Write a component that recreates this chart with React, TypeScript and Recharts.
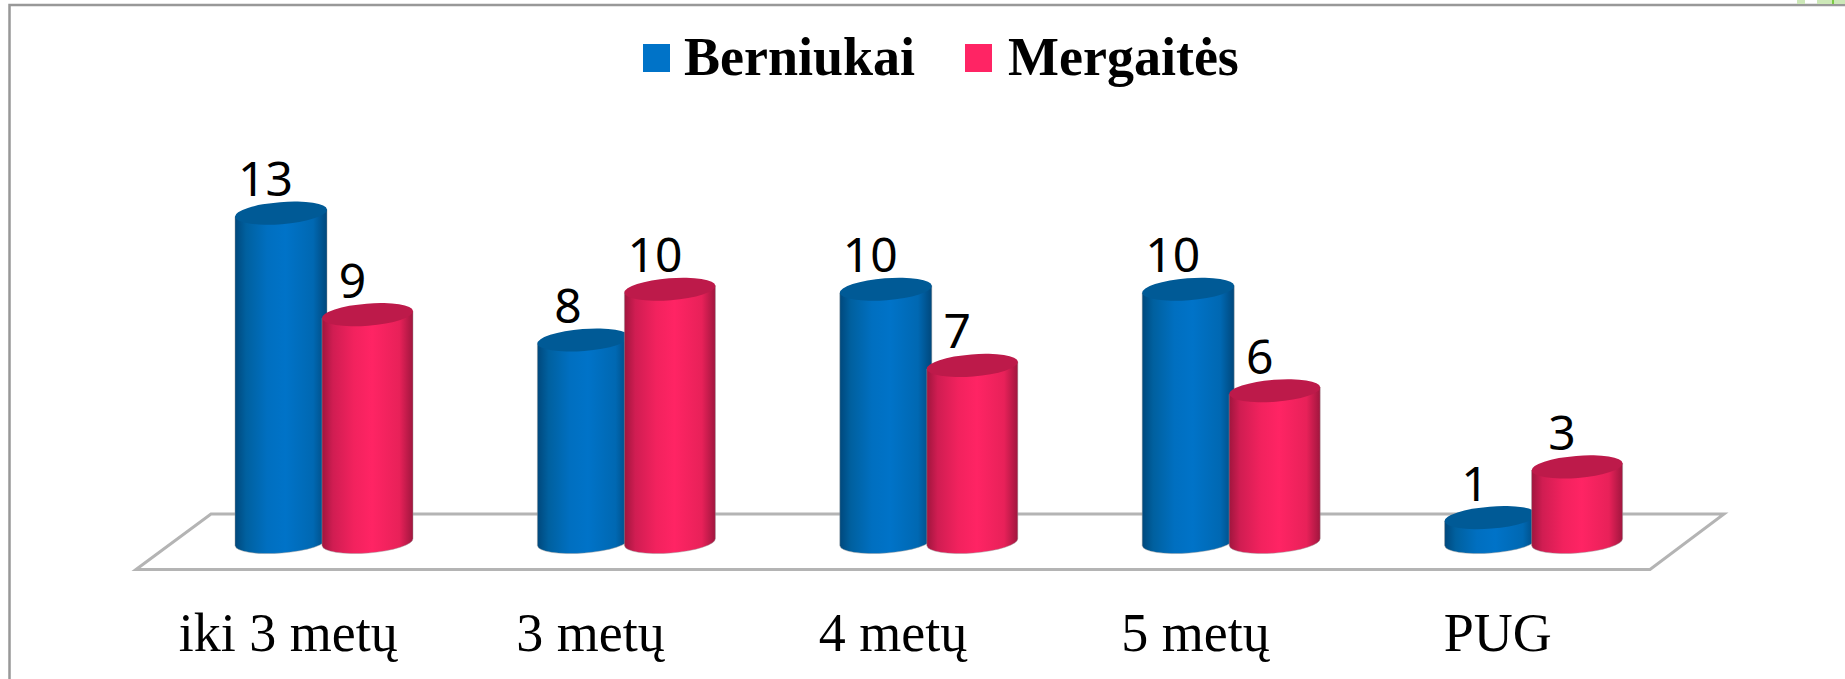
import React from "react";
import { BarChart, Bar, XAxis, YAxis, LabelList } from "recharts";

const categories = ["iki 3 metų", "3 metų", "4 metų", "5 metų", "PUG"];
const boys = [13, 8, 10, 10, 1];
const girls = [9, 10, 7, 6, 3];
const seriesNames = ["Berniukai", "Mergaitės"];
const data = categories.map((c, i) => ({ c, boys: boys[i], girls: girls[i] }));

const W = 1845, H = 679;
const BLUE = "#0073c8", RED = "#ff2464";
const RY = 11, TILT = 4.5;

const Cyl = (grad: string, top: string, shift: number, extra: number) => (p: any) => {
  const x = p.x + shift, w = p.width + extra, y = p.y, h = p.height;
  const rx = w / 2;
  const dy = (Math.tan((TILT * Math.PI) / 180) * w) / 2;
  const arc = `${rx} ${RY} ${-TILT}`;
  const body = `M${x} ${y + dy}L${x + w} ${y - dy}L${x + w} ${y + h - dy - 1}A${arc} 0 1 ${x} ${y + h + dy - 1}Z`;
  const cap = `M${x} ${y + dy}A${arc} 0 1 ${x + w} ${y - dy}A${arc} 0 1 ${x} ${y + dy}Z`;
  return (
    <g>
      <path d={body} fill={`url(#${grad})`} stroke="#9a9a9a" strokeOpacity={0.45} strokeWidth={1} />
      <path d={cap} fill={top} />
    </g>
  );
};

const LegendBox = () => (
  <div style={{ position: "absolute", left: 0, top: 0, width: W, height: 100, fontFamily: "'Liberation Serif', serif", fontWeight: 700, fontSize: 54, color: "#000" }}>
    <span style={{ position: "absolute", left: 643, top: 44, width: 27, height: 28, background: BLUE }} />
    <span style={{ position: "absolute", left: 684, top: 25, lineHeight: "64px" }}>{seriesNames[0]}</span>
    <span style={{ position: "absolute", left: 965, top: 44, width: 27, height: 28, background: RED }} />
    <span style={{ position: "absolute", left: 1008, top: 25, lineHeight: "64px" }}>{seriesNames[1]}</span>
  </div>
);

const labelStyle = { fontFamily: "'Noto Sans', sans-serif", fontSize: 48, fill: "#000" };

export default function App() {
  return (
    <div style={{ position: "absolute", left: 0, top: 0, width: W, height: H, background: "#fff", overflow: "hidden" }}>
      <BarChart width={W} height={H} data={data} margin={{ top: 0, right: W - 1684, bottom: 0, left: 172 }} barSize={87} barGap={0} barCategoryGap={0}>
        <defs>
          <linearGradient id="gb" x1="0" x2="1" y1="0" y2="0">
            <stop offset="0" stopColor="#00487c" />
            <stop offset="0.12" stopColor="#00609f" />
            <stop offset="0.35" stopColor="#006fc0" />
            <stop offset="0.55" stopColor={BLUE} />
            <stop offset="0.85" stopColor="#0068b2" />
            <stop offset="1" stopColor="#00487c" />
          </linearGradient>
          <linearGradient id="gr" x1="0" x2="1" y1="0" y2="0">
            <stop offset="0" stopColor="#a0163e" />
            <stop offset="0.12" stopColor="#d01d52" />
            <stop offset="0.35" stopColor="#f2225e" />
            <stop offset="0.55" stopColor={RED} />
            <stop offset="0.85" stopColor="#e82159" />
            <stop offset="1" stopColor="#a0163e" />
          </linearGradient>
        </defs>
        {/* frame and floor */}
        <path d={`M9.5 ${H}V5H${W}`} fill="none" stroke="#989898" strokeWidth={2.5} />
        <path d="M1797 0h8v4h-8zM1817 0h28v4h-28z" fill="#cde8b8" />
        <path d="M1832 0h2v4h-2z" fill="#7ccb45" />
        <path d="M136 569.5L211 514H1724L1650 569.5Z" fill="none" stroke="#b4b4b4" strokeWidth={3} />
        <XAxis
          dataKey="c"
          axisLine={false}
          tickLine={false}
          interval={0}
          dy={62}
          dx={-35}
          tick={{ fontFamily: "'Liberation Serif', serif", fontSize: 54, fill: "#000" }}
          height={136}
        />
        <YAxis hide domain={[0, 21.4]} />
        <Bar dataKey="boys" name={seriesNames[0]} isAnimationActive={false} shape={Cyl("gb", "#005a96", -1, 5)}>
          <LabelList dataKey="boys" position="top" offset={17} dx={-14} style={labelStyle} />
        </Bar>
        <Bar dataKey="girls" name={seriesNames[1]} isAnimationActive={false} shape={Cyl("gr", "#bd1a4a", -1, 4)}>
          <LabelList dataKey="girls" position="top" offset={17} dx={-14} style={labelStyle} />
        </Bar>
      </BarChart>
      <LegendBox />
    </div>
  );
}
